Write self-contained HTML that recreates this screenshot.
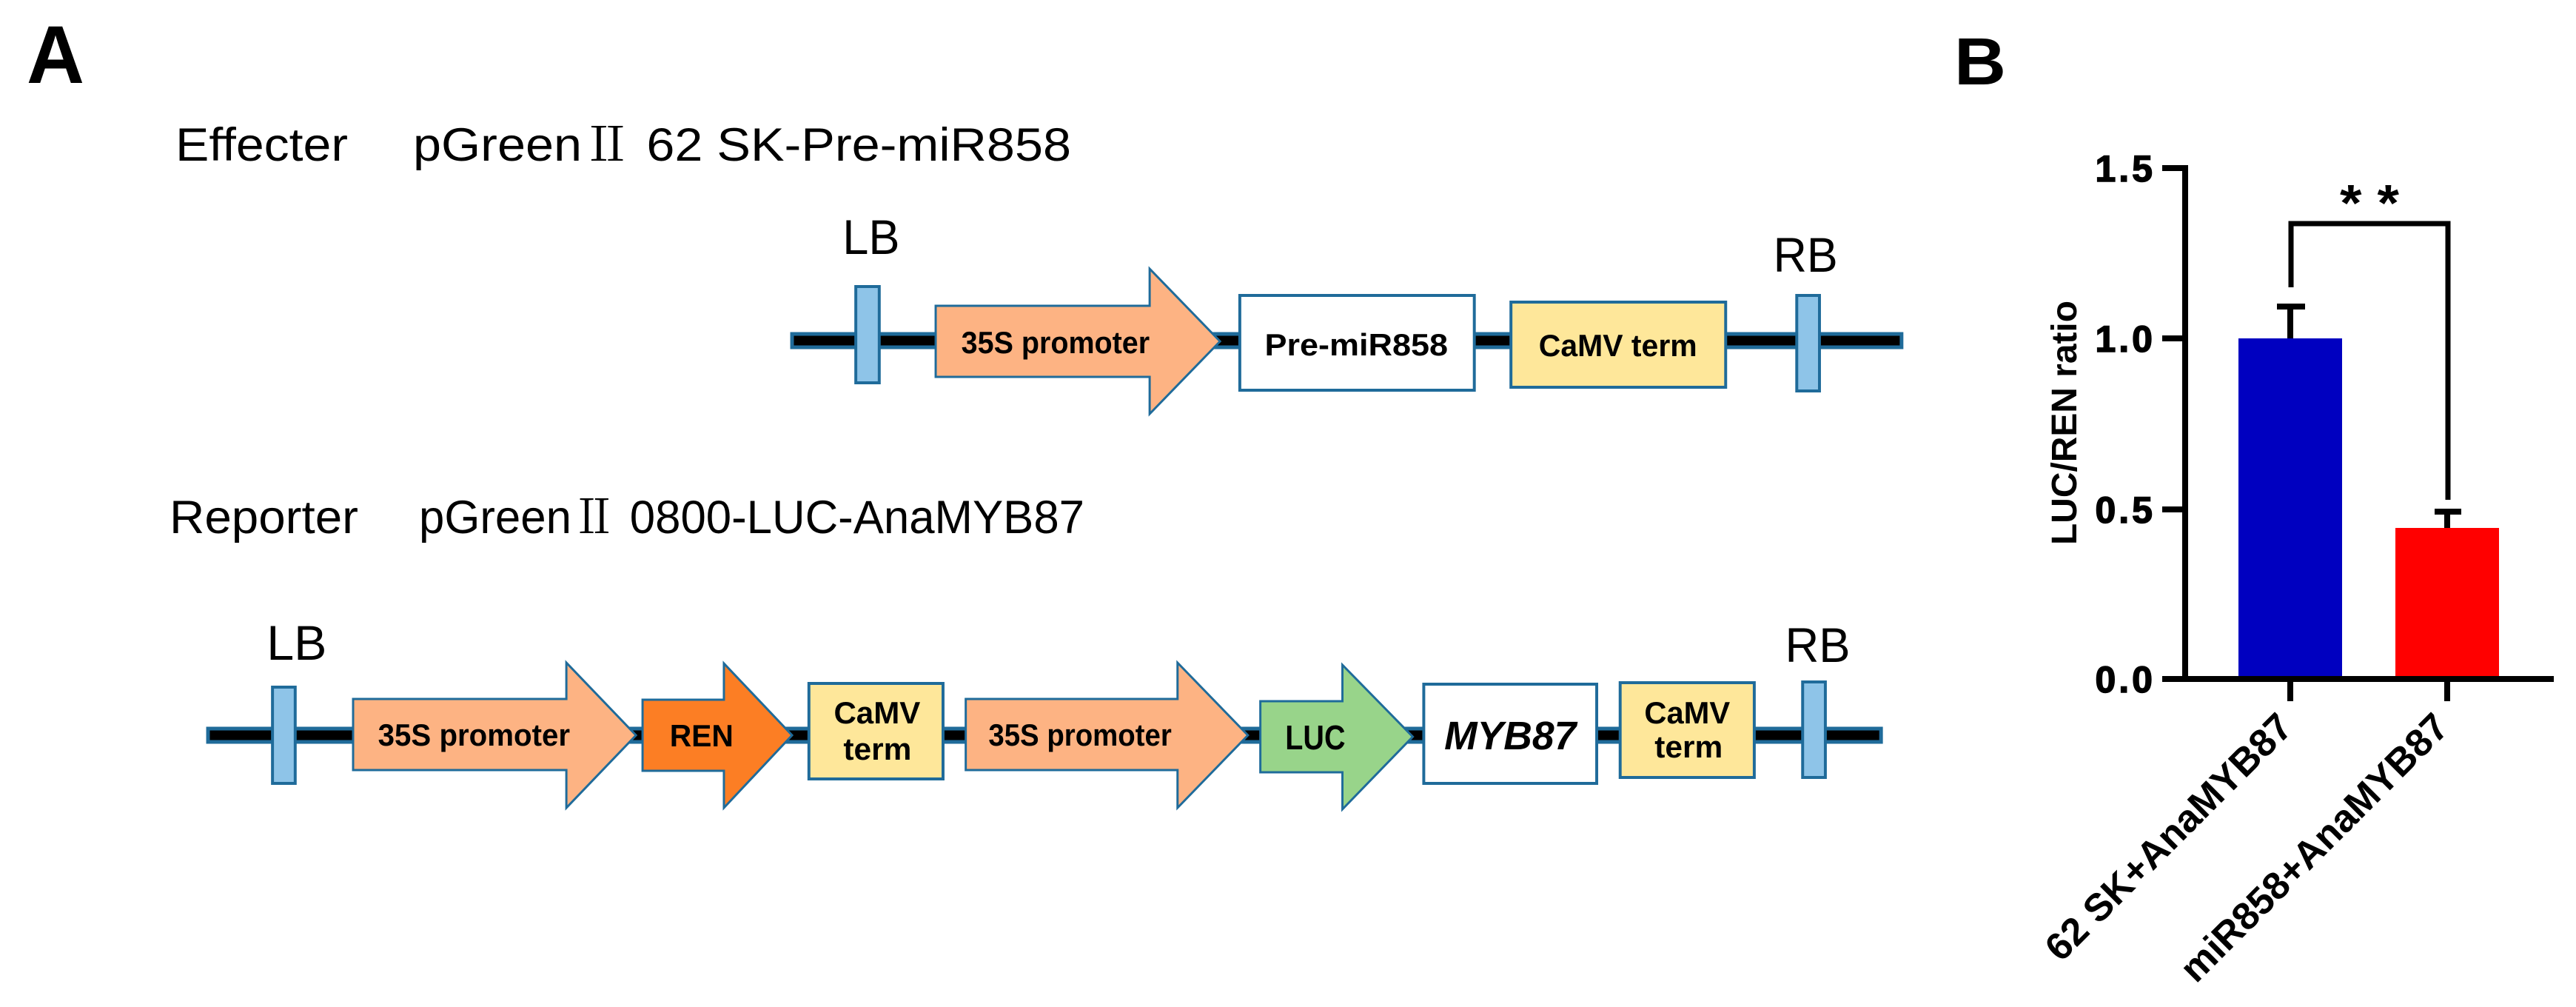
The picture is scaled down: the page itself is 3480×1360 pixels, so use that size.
<!DOCTYPE html>
<html><head><meta charset="utf-8"><style>
html,body{margin:0;padding:0;background:#fff;}
svg{display:block;}
text{font-family:"Liberation Sans Narrow","Liberation Sans",sans-serif;}
.b{font-family:"Liberation Sans",sans-serif;font-weight:bold;}
.n{font-weight:bold;}
.r2{font-family:"Noto Serif CJK SC","Liberation Serif",serif;}
</style></head><body>
<svg width="3480" height="1360" viewBox="0 0 3480 1360" xmlns="http://www.w3.org/2000/svg">
<!-- Panel A -->
<text x="36" y="112" class="b" font-size="110" textLength="78" lengthAdjust="spacingAndGlyphs">A</text>
<text x="237" y="217" font-size="63" textLength="233" lengthAdjust="spacingAndGlyphs">Effecter</text>
<text x="558" y="217" font-size="63" textLength="889" lengthAdjust="spacingAndGlyphs">pGreen<tspan class="r2">Ⅱ</tspan> 62 SK-Pre-miR858</text>
<text x="229" y="720" font-size="63" textLength="255" lengthAdjust="spacingAndGlyphs">Reporter</text>
<text x="566" y="720" font-size="63" textLength="899" lengthAdjust="spacingAndGlyphs">pGreen<tspan class="r2">Ⅱ</tspan> 0800-LUC-AnaMYB87</text>

<!-- Top construct -->
<g transform="translate(1070,0) scale(0.99,1) translate(-1070,0)">
<g stroke="#1f6b9a" stroke-width="4">
<rect x="1070" y="451" width="1514" height="18" fill="#000" stroke-width="5"/>
<rect x="1157" y="387" width="32" height="130" fill="#8ec4e8"/>
<polygon points="1266,413 1558,413 1558,363 1654,461 1558,559 1558,509 1266,509" fill="#fdb383" stroke-width="3"/>
<rect x="1681" y="399" width="320" height="128" fill="#fff"/>
<rect x="2051" y="408" width="293" height="115" fill="#fee79a"/>
<rect x="2441" y="399" width="31" height="129" fill="#8ec4e8"/>
</g>
<g font-size="66">
<text x="1139" y="343" textLength="78" lengthAdjust="spacingAndGlyphs">LB</text>
<text x="2409" y="367" textLength="88" lengthAdjust="spacingAndGlyphs">RB</text>
</g>
<g class="n" font-size="42">
<text x="1301" y="477" textLength="257" lengthAdjust="spacingAndGlyphs">35S promoter</text>
<text x="1715" y="480" textLength="250" lengthAdjust="spacingAndGlyphs">Pre-miR858</text>
<text x="2089" y="481" textLength="216" lengthAdjust="spacingAndGlyphs">CaMV term</text>
</g>
</g>

<!-- Bottom construct -->
<g transform="translate(281,0) scale(0.99,1) translate(-281,0)">
<g stroke="#1f6b9a" stroke-width="4">
<rect x="281" y="984" width="2283" height="18" fill="#000" stroke-width="5"/>
<rect x="369" y="928" width="31" height="130" fill="#8ec4e8"/>
<polygon points="479,944 770,944 770,895 865,993 770,1091 770,1040 479,1040" fill="#fdb383" stroke-width="3"/>
<polygon points="874,945 985,945 985,896 1078,993 985,1091 985,1041 874,1041" fill="#fc7e24" stroke-width="3"/>
<rect x="1101" y="923" width="183" height="129" fill="#fee79a"/>
<polygon points="1315,944 1604,944 1604,895 1700,993 1604,1091 1604,1040 1315,1040" fill="#fdb383" stroke-width="3"/>
<polygon points="1717,947 1829,947 1829,898 1925,995 1829,1093 1829,1043 1717,1043" fill="#98d48a" stroke-width="3"/>
<rect x="1940" y="924" width="236" height="134" fill="#fff"/>
<rect x="2208" y="922" width="183" height="128" fill="#fee79a"/>
<rect x="2457" y="921" width="31" height="129" fill="#8ec4e8"/>
</g>
<g font-size="66">
<text x="361" y="891" textLength="82" lengthAdjust="spacingAndGlyphs">LB</text>
<text x="2433" y="894" textLength="89" lengthAdjust="spacingAndGlyphs">RB</text>
</g>
<g class="n" font-size="42">
<text x="513" y="1007" textLength="262" lengthAdjust="spacingAndGlyphs">35S promoter</text>
<text x="911" y="1008" textLength="87" lengthAdjust="spacingAndGlyphs">REN</text>
<text x="1135" y="977" textLength="118" lengthAdjust="spacingAndGlyphs">CaMV</text>
<text x="1148" y="1026" textLength="93" lengthAdjust="spacingAndGlyphs">term</text>
<text x="1346" y="1007" textLength="250" lengthAdjust="spacingAndGlyphs">35S promoter</text>
<text x="1751" y="1012" font-size="46" textLength="82" lengthAdjust="spacingAndGlyphs">LUC</text>
<text x="1968" y="1012" font-size="54" font-style="italic" textLength="180" lengthAdjust="spacingAndGlyphs">MYB87</text>
<text x="2241" y="977" textLength="117" lengthAdjust="spacingAndGlyphs">CaMV</text>
<text x="2255" y="1023" textLength="93" lengthAdjust="spacingAndGlyphs">term</text>
</g>
</g>

<!-- Panel B -->
<text x="2640" y="114" class="b" font-size="90" textLength="70" lengthAdjust="spacingAndGlyphs">B</text>
<rect x="3024" y="457" width="140" height="460" fill="#0000c0"/>
<rect x="3236" y="713" width="140" height="204" fill="#ff0000"/>
<g stroke="#000" stroke-width="8" fill="none">
<line x1="2952" y1="223" x2="2952" y2="921"/>
<line x1="2921" y1="917" x2="3450" y2="917"/>
<line x1="2921" y1="227" x2="2952" y2="227"/>
<line x1="2921" y1="457" x2="2952" y2="457"/>
<line x1="2921" y1="688" x2="2952" y2="688"/>
<line x1="3094" y1="917" x2="3094" y2="947"/>
<line x1="3306" y1="917" x2="3306" y2="947"/>
<line x1="3094" y1="457" x2="3094" y2="414"/>
<line x1="3076" y1="414" x2="3114" y2="414"/>
<line x1="3306" y1="713" x2="3306" y2="691"/>
<line x1="3289" y1="691" x2="3325" y2="691"/>
<polyline points="3095,388 3095,302 3307,302 3307,675" stroke-width="7"/>
</g>
<g class="b" font-size="50" text-anchor="end" letter-spacing="4" stroke="#000" stroke-width="1.5">
<text x="2912" y="245">1.5</text>
<text x="2912" y="475">1.0</text>
<text x="2912" y="706">0.5</text>
<text x="2912" y="935">0.0</text>
</g>
<text class="b" font-size="70" x="3201" y="298" text-anchor="middle" textLength="80" lengthAdjust="spacingAndGlyphs">* *</text>
<text class="b" font-size="48" transform="translate(2805,736) rotate(-90)" textLength="330" lengthAdjust="spacingAndGlyphs">LUC/REN ratio</text>
<text class="b" font-size="52" text-anchor="end" transform="translate(3100,985) rotate(-45)">62 SK+AnaMYB87</text>
<text class="b" font-size="52" text-anchor="end" transform="translate(3311,985) rotate(-45)">miR858+AnaMYB87</text>
</svg>
</body></html>
